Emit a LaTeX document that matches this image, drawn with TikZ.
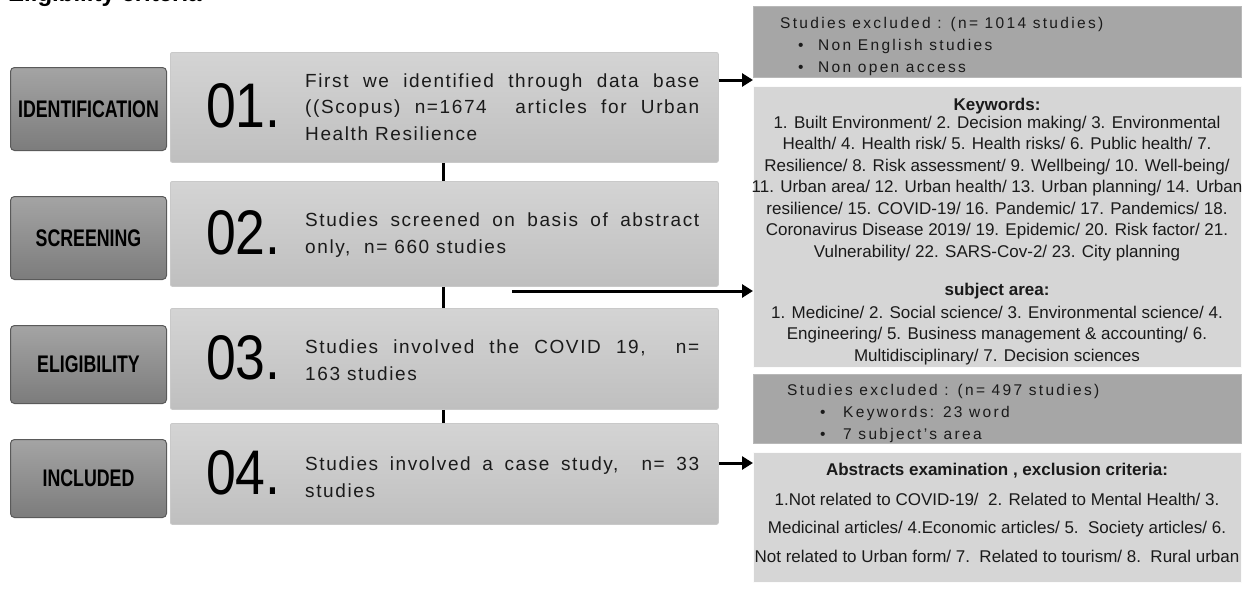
\documentclass[tikz,border=0pt]{standalone}
\usepackage{fontspec}
\usepackage{graphicx}
\setmainfont{Liberation Sans}
\newfontfamily\trackfont[LetterSpace=8.5]{Liberation Sans}
\newfontfamily\exfont[LetterSpace=15]{Liberation Sans}
\usetikzlibrary{arrows.meta,calc}
\definecolor{lbtop}{HTML}{A4A4A4}
\definecolor{lbbot}{HTML}{7C7C7C}
\definecolor{lbline}{HTML}{5A5A5A}
\definecolor{mbtop}{HTML}{D4D4D4}
\definecolor{mbbot}{HTML}{BFBFBF}
\definecolor{mbline}{HTML}{C9C9C9}
\definecolor{exfill}{HTML}{A6A6A6}
\definecolor{kwfill}{HTML}{D6D6D6}
\definecolor{txt}{HTML}{1A1A1A}
\tikzset{
  stagebox/.style={draw=lbline, line width=1pt, rounded corners=4pt, top color=lbtop, bottom color=lbbot,
    minimum width=156pt, anchor=north west, inner sep=0pt, text=black,
    font=\fontsize{24}{24}\selectfont\bfseries},
  stepbox/.style={draw=mbline, line width=0.8pt, rounded corners=2pt, top color=mbtop, bottom color=mbbot,
    minimum width=548pt, anchor=north west, inner sep=0pt},
  numtext/.style={anchor=west, inner sep=0pt, text=black, font=\fontsize{63}{63}\selectfont},
  steptext/.style={anchor=west, inner sep=0pt, text=txt, text width=394pt, align=justify,
    font=\trackfont\fontsize{19}{26.7}\selectfont},
  exbox/.style={fill=exfill, draw=exfill!80!white, line width=0.6pt, minimum width=488pt, anchor=north west, inner sep=0pt},
  kwbox/.style={fill=kwfill, draw=white!90!kwfill, line width=0.6pt, minimum width=488pt, anchor=north west, inner sep=0pt},
  extext/.style={anchor=north west, inner sep=0pt, align=left, text=txt, font=\exfont\fontsize{15.5}{22}\selectfont},
  kwtext/.style={anchor=north, inner sep=0pt, align=center, text=txt, font=\fontsize{17}{21.5}\selectfont},
  link/.style={line width=3pt, black},
  arr/.style={line width=3pt, black, -{Triangle[length=11pt,width=13pt]}}
}
\newcommand{\cnd}[1]{\scalebox{0.74}[1]{#1}}
\newcommand{\numb}[1]{\scalebox{0.85}[1]{#1}}
\begin{document}
\begin{tikzpicture}[x=1pt,y=-1pt]
\useasboundingbox (0,0) rectangle (1249,590);
\fill[white] (0,0) rectangle (1249,590);
\begin{scope}
\clip (0,0) rectangle (1249,590);
\node[anchor=base west, inner sep=0pt, font=\fontsize{24}{24}\selectfont\bfseries] (title) at (8,1) {Eligibility criteria};
\end{scope}

% stage labels
\node[stagebox, minimum height=83pt] (idL) at (10,67) {\cnd{IDENTIFICATION}};
\node[stagebox, minimum height=83pt] (scL) at (10,196) {\cnd{SCREENING}};
\node[stagebox, minimum height=78pt] (elL) at (10,325) {\cnd{ELIGIBILITY}};
\node[stagebox, minimum height=78pt] (inL) at (10,439) {\cnd{INCLUDED}};

% step boxes
\node[stepbox, minimum height=110pt] (b1) at (170,52) {};
\node[stepbox, minimum height=105pt] (b2) at (170,181) {};
\node[stepbox, minimum height=101pt] (b3) at (170,308) {};
\node[stepbox, minimum height=101pt] (b4) at (170,423) {};

\node[numtext] (n1) at (206,106) {\numb{01.}};
\node[numtext] (n2) at (206,233) {\numb{02.}};
\node[numtext] (n3) at (206,358) {\numb{03.}};
\node[numtext] (n4) at (206,473) {\numb{04.}};

\node[steptext] (t1) at (305,107) {First we identified through data base\linebreak ((Scopus) n=1674\ \ articles for Urban\linebreak Health Resilience};
\node[steptext] (t2) at (305,235) {Studies screened on basis of abstract\linebreak only,\ \ n= 660 studies};
\node[steptext] (t3) at (305,360) {Studies involved the COVID 19,\ \ n=\linebreak 163 studies};
\node[steptext] (t4) at (305,477) {Studies involved a case study,\ \ n= 33\linebreak studies};

% right boxes
\node[exbox, minimum height=71pt] (ex1) at (753,6) {};
\node[kwbox, minimum height=281pt] (kw) at (753,86) {};
\node[exbox, minimum height=69pt] (ex2) at (753,374) {};
\node[kwbox, minimum height=130pt] (ab) at (753,452) {};

\node[extext] (ex1t) at (780,17) {Studies excluded : (n= 1014 studies)\\
\hspace*{18pt}\makebox[20pt][l]{•}Non English studies\\
\hspace*{18pt}\makebox[20pt][l]{•}Non open access};
\node[extext] (ex2t) at (787,384) {Studies excluded : (n= 497 studies)\\
\hspace*{33pt}\makebox[23pt][l]{•}Keywords: 23 word\\
\hspace*{33pt}\makebox[23pt][l]{•}7 subject’s area};

\node[kwtext] (kwt) at (997,97.5) {\textbf{Keywords:}\\[-3.5pt]
1. Built Environment/ 2. Decision making/ 3. Environmental\\
Health/ 4. Health risk/ 5. Health risks/ 6. Public health/ 7.\\
Resilience/ 8. Risk assessment/ 9. Wellbeing/ 10. Well-being/\\
11. Urban area/ 12. Urban health/ 13. Urban planning/ 14. Urban\\
resilience/ 15. COVID-19/ 16. Pandemic/ 17. Pandemics/ 18.\\
Coronavirus Disease 2019/ 19. Epidemic/ 20. Risk factor/ 21.\\
Vulnerability/ 22. SARS-Cov-2/ 23. City planning\\[16.5pt]
\textbf{subject area:}\\[1.5pt]
1. Medicine/ 2. Social science/ 3. Environmental science/ 4.\\
Engineering/ 5. Business management \& accounting/ 6.\\
Multidisciplinary/ 7. Decision sciences};

\node[kwtext, font=\fontsize{17}{28.5}\selectfont] (abt) at (997,462.5) {\textbf{Abstracts examination , exclusion criteria:}\\[1.5pt]
1.Not related to COVID-19/\ \ 2. Related to Mental Health/ 3.\\
Medicinal articles/ 4.Economic articles/ 5.\ \ Society articles/ 6.\\
Not related to Urban form/ 7.\ \ Related to tourism/ 8.\ \ Rural urban};

% connectors
\coordinate (vx) at (443,0);
\draw[link] (b1.south -| vx) -- (b2.north -| vx);
\draw[link] (b2.south -| vx) -- (b3.north -| vx);
\draw[link] (b3.south -| vx) -- (b4.north -| vx);
\draw[arr] (b1.east |- 0,80) -- (ex1.west |- 0,80);
\coordinate (a2s) at (512,291);
\draw[arr] (a2s) -- (kw.west |- a2s);
\draw[arr] (b4.east |- 0,463) -- (ab.west |- 0,463);
\end{tikzpicture}
\end{document}
